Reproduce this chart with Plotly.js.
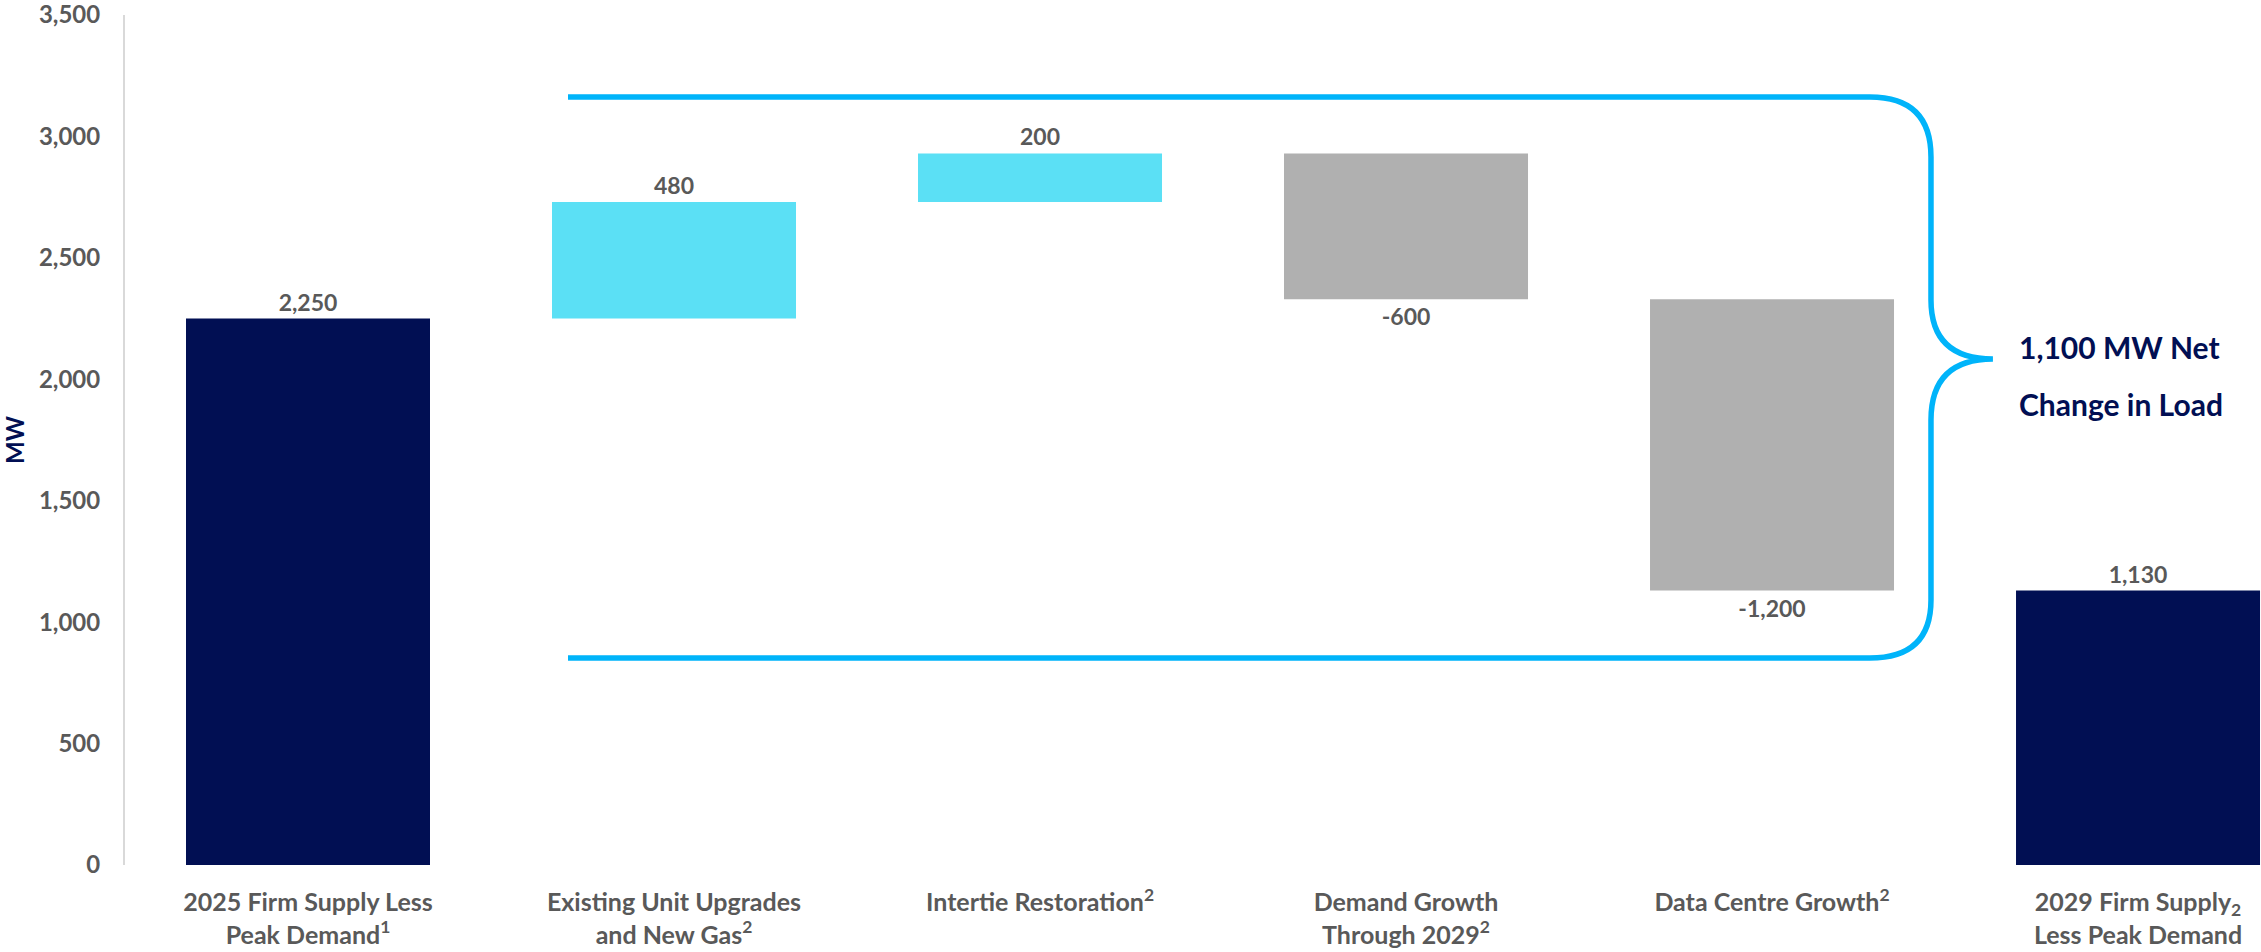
<!DOCTYPE html>
<html>
<head>
<meta charset="utf-8">
<script src="https://cdn.plot.ly/plotly-3.0.1.min.js"></script>
<style>
  html, body { margin: 0; padding: 0; background: #ffffff; }
  #chart { width: 2261px; height: 952px; }
</style>
</head>
<body>
<div id="chart"></div>
<script>
// ---- data ----
const categories = [
  "2025 Firm Supply Less Peak Demand",
  "Existing Unit Upgrades and New Gas",
  "Intertie Restoration",
  "Demand Growth Through 2029",
  "Data Centre Growth",
  "2029 Firm Supply Less Peak Demand"
];
const tickLabels = [
  "2025 Firm Supply Less<br>Peak Demand<sup>1</sup>",
  "Existing Unit Upgrades<br>and New Gas<sup>2</sup>",
  "Intertie Restoration<sup>2</sup>",
  "Demand Growth<br>Through 2029<sup>2</sup>",
  "Data Centre Growth<sup>2</sup>",
  "2029 Firm Supply<sub>2</sub><br>Less Peak Demand"
];
const measures = ["absolute", "relative", "relative", "relative", "relative", "total"];
const values = [2250, 480, 200, -600, -1200, 1130];
const valueLabels = ["2,250", "480", "200", "-600", "-1,200", "1,130"];
const noteLines = ["1,100 MW Net", "Change in Load"];

// ---- styles ----
const NAVY = "#010F53";
const CYAN = "#5BE0F5";
const GRAY = "#B0B0B0";
const TXT = "#595959";
const BRACE = "#00B4FA";
const FONT = "Lato, 'Open Sans', sans-serif";

const trace = {
  type: "waterfall",
  x: categories,
  y: values,
  measure: measures,
  text: valueLabels,
  textposition: "outside",
  textfont: { family: FONT, size: 23, color: TXT, weight: 700 },
  cliponaxis: false,
  connector: { visible: false },
  increasing: { marker: { color: CYAN } },
  decreasing: { marker: { color: GRAY } },
  totals: { marker: { color: NAVY } },
  hoverinfo: "skip",
  showlegend: false
};

// brace drawn in paper coordinates (plot area: x 125..2261 px, y 865..15 px)
const PL = 125, PW = 2136, PB = 865, PH = 850;
function px(x) { return ((x - PL) / PW).toFixed(4); }
function py(y) { return ((PB - y) / PH).toFixed(4); }
const xL = 568, xH = 1870, xV = 1931, xT = 1993;
const yTop = 97, yC1 = 157, yV1 = 300, yTip = 359, yV2 = 420, yC2 = 600, yBot = 658;
const bracePath =
  "M " + px(xL) + "," + py(yTop) +
  " L " + px(xH) + "," + py(yTop) +
  " Q " + px(xV) + "," + py(yTop) + " " + px(xV) + "," + py(yC1) +
  " L " + px(xV) + "," + py(yV1) +
  " Q " + px(xV) + "," + py(yTip) + " " + px(xT) + "," + py(yTip) +
  " Q " + px(xV) + "," + py(yTip) + " " + px(xV) + "," + py(yV2) +
  " L " + px(xV) + "," + py(yC2) +
  " Q " + px(xV) + "," + py(yBot) + " " + px(xH) + "," + py(yBot) +
  " L " + px(xL) + "," + py(yBot);

const layout = {
  width: 2261,
  height: 952,
  margin: { l: PL, r: 0, t: 15, b: 87 },
  paper_bgcolor: "#ffffff",
  plot_bgcolor: "#ffffff",
  waterfallgap: 1 / 3,
  font: { family: FONT, color: TXT },
  xaxis: {
    type: "category",
    range: [-0.5, 5.336],
    tickvals: categories,
    ticktext: tickLabels,
    tickfont: { family: FONT, size: 25, color: TXT, weight: 700 },
    ticks: "",
    ticklabelstandoff: 20,
    ticklabeloverflow: "allow",
    showline: false,
    showgrid: false,
    zeroline: false,
    fixedrange: true
  },
  yaxis: {
    range: [0, 3500],
    dtick: 500,
    tickformat: ",",
    tickfont: { family: FONT, size: 24, color: TXT, weight: 700 },
    ticks: "",
    ticklabelstandoff: 18,
    ticklabeloverflow: "allow",
    showline: true,
    linecolor: "#D9D9D9",
    linewidth: 2,
    showgrid: false,
    zeroline: false,
    fixedrange: true,
    title: {
      text: "MW",
      font: { family: FONT, size: 24, color: NAVY, weight: 700 },
      standoff: 12
    }
  },
  shapes: [{
    type: "path",
    xref: "paper",
    yref: "paper",
    path: bracePath,
    line: { color: BRACE, width: 5.5 },
    fillcolor: "rgba(0,0,0,0)"
  }],
  annotations: [
    {
      xref: "paper", yref: "paper",
      x: +px(2017), y: +py(347),
      xanchor: "left", yanchor: "middle",
      text: noteLines[0],
      showarrow: false,
      font: { family: FONT, size: 30, color: NAVY, weight: 700 }
    },
    {
      xref: "paper", yref: "paper",
      x: +px(2017), y: +py(404),
      xanchor: "left", yanchor: "middle",
      text: noteLines[1],
      showarrow: false,
      font: { family: FONT, size: 30, color: NAVY, weight: 700 }
    }
  ]
};

Plotly.newPlot("chart", [trace], layout, { displayModeBar: false, staticPlot: true });
</script>
</body>
</html>
